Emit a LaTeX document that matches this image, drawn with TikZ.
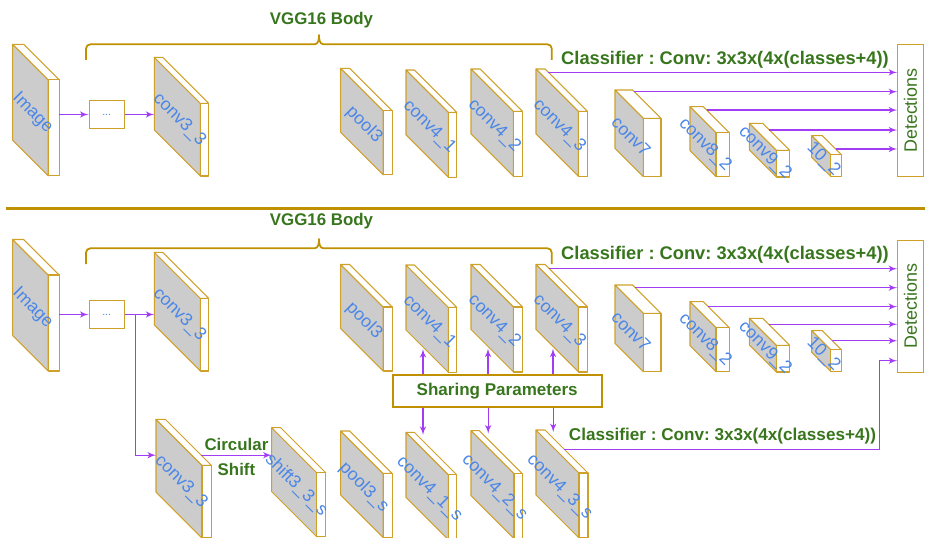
\documentclass[tikz,border=0pt]{standalone}
\usepackage{fontspec}
\setmainfont{Liberation Sans}
\usetikzlibrary{arrows, calc}
\frenchspacing

\definecolor{slabline}{HTML}{CFA12B}
\definecolor{bracegold}{HTML}{BF9000}
\definecolor{facegray}{HTML}{CCCCCC}
\definecolor{labelblue}{HTML}{4A86E8}
\definecolor{textgreen}{HTML}{38761D}
\definecolor{flowpurple}{HTML}{A23CF5}

\begin{document}
\begin{tikzpicture}[x=0.02cm, y=-0.02cm]

\tikzset{slabface/.style = {draw=slabline, fill=facegray, line width=0.6pt, line join=round}}
\tikzset{slabside/.style = {draw=slabline, fill=white, line width=0.6pt, line join=round}}
\tikzset{layer/.style = {text=labelblue, rotate=-45, inner sep=0pt, font=\fontsize{10}{12}\selectfont}}
\tikzset{title/.style = {text=textgreen, inner sep=0pt, font=\bfseries\fontsize{9.6}{11}\selectfont}}
\tikzset{brace/.style = {draw=bracegold, line width=1pt, line join=round}}
\tikzset{flow/.style = {->, > = latex', draw=flowpurple, line width=0.7pt}}
\tikzset{detect/.style = {draw=slabline, line width=0.6pt, minimum width=0.512cm, minimum height=2.648cm, inner sep=0pt, text=textgreen, font=\fontsize{10.2}{12}\selectfont}}
\tikzset{dotbox/.style = {draw=slabline, line width=0.6pt, minimum width=0.706cm, minimum height=0.552cm, inner sep=0pt, text=labelblue, font=\fontsize{6}{7}\selectfont}}
% slab = {depth}{height}{thickness}{label}, placed at the top corner of its grey face
\tikzset{pics/slab/.style n args = {4}{code = {
  \draw[slabface] (0,0) -- (#1,#1) -- (#1,{#1+#2}) -- (0,#2) -- cycle;
  \draw[slabside] (0,0) -- (#3,0) -- ({#1+#3},#1) -- (#1,#1) -- cycle;
  \draw[slabside] (#1,#1) -- ({#1+#3},#1) -- ({#1+#3},{#1+#2}) -- (#1,{#1+#2}) -- cycle;
  \coordinate (-w) at (0,0);
  \coordinate (-e) at (#3,0);
  \coordinate (-f) at ({#1+#3},#1);
  \coordinate (-bot) at ({0.4*#1},{0.4*#1+#2+2});
  \coordinate (-top) at ({0.4*#1},{0.4*#1-#3-6});
  \node[layer] (-lab) at ({#1/2+2},{#1/2+#2/2+3}) {#4};
}}}

\useasboundingbox (0,0) rectangle (925,537);
\clip (0,0) rectangle (925,537);

%top: layers
\pic (image) at (12.7,44.3) {slab={35.5}{96}{11}{Image}};
\pic (conv33) at (154.3,57.3) {slab={46}{72.7}{8.3}{conv3\_3}};
\pic (pool3) at (340.7,68.3) {slab={42.5}{64}{9}{pool3}};
\pic (conv41) at (406,70) {slab={42.5}{65}{8.3}{conv4\_1}};
\pic (conv42) at (471,69) {slab={42.5}{65}{9}{conv4\_2}};
\pic (conv43) at (536,69) {slab={42.5}{65}{9}{conv4\_3}};
\pic (conv7) at (615,90) {slab={28.3}{58.3}{17.7}{conv7}};
\pic (conv82) at (690,106.7) {slab={26}{44}{13.3}{conv8\_2}};
\pic (conv92) at (749.3,123.3) {slab={27}{26.7}{13.3}{conv9\_2}};
\pic (conv102) at (811.7,135.7) {slab={19}{21.7}{10.7}{10\_2}};
\node[dotbox] (dots1) at (106.7,114.5) {...};
\node[detect] (det1) at (910.5,110.5) {\rotatebox{90}{Detections}};

%top: labels
\draw[brace] (86,60) -- (86,48.5) to[out=90,in=180] (90.5,44.3) -- (314.5,44.3) to[out=0,in=270] (319,35)
  to[out=270,in=180] (323.5,44.3) -- (547.5,44.3) to[out=0,in=90] (551.7,48.5) -- (551.7,60);
\node[title] (vgg1) at (321.5,19.7) {VGG16 Body};
\node[title, font=\bfseries\fontsize{10.4}{12}\selectfont] (cls1) at (725,60) {Classifier : Conv: 3x3x(4x(classes+4))};

%top: edges
\draw[flow] (image-f |- dots1.west) -- (dots1.west);
\draw[flow] (dots1.east) -- (conv33-w |- dots1.east);
\draw[flow] ($(conv43-e)!.08!(conv43-f)$) coordinate (o1) -- (o1 -| det1.west);
\draw[flow] ($(conv7-e)!.06!(conv7-f)$) coordinate (o2) -- (o2 -| det1.west);
\draw[flow] ($(conv82-e)!.13!(conv82-f)$) coordinate (o3) -- (o3 -| det1.west);
\draw[flow] ($(conv92-e)!.25!(conv92-f)$) coordinate (o4) -- (o4 -| det1.west);
\draw[flow] ($(conv102-e)!.7!(conv102-f)$) coordinate (o5) -- (o5 -| det1.west);

\draw[draw=bracegold, line width=1.4pt] (6,208.3) -- (925,208.3);

%bottom: layers
\pic (imageb) at (12.7,239.5) {slab={35.5}{96}{11}{Image}};
\pic (conv33b) at (154.3,252.3) {slab={46}{72.7}{8.3}{conv3\_3}};
\pic (pool3b) at (340.7,264.5) {slab={42.5}{64}{9}{pool3}};
\pic (conv41b) at (406,265) {slab={42.5}{65}{8.3}{conv4\_1}};
\pic (conv42b) at (471,264.5) {slab={42.5}{65}{9}{conv4\_2}};
\pic (conv43b) at (536,264.5) {slab={42.5}{65}{9}{conv4\_3}};
\pic (conv7b) at (615,285) {slab={28.3}{58.3}{17.7}{conv7}};
\pic (conv82b) at (690,301.7) {slab={26}{44}{13.3}{conv8\_2}};
\pic (conv92b) at (749.3,318.3) {slab={27}{26.7}{13.3}{conv9\_2}};
\pic (conv102b) at (811.7,330.7) {slab={19}{21.7}{10.7}{10\_2}};
\node[dotbox] (dots2) at (106.7,314.5) {...};
\node[detect] (det2) at (910.5,306.3) {\rotatebox{90}{Detections}};

\pic (conv33s) at (156,419.3) {slab={46}{72.7}{9.3}{conv3\_3}};
\pic (shift33s) at (271.7,427.7) {slab={45}{64}{9}{shift3\_3\_s}};
\pic (pool3s) at (340.7,431) {slab={42.5}{64}{9}{pool3\_s}};
\pic (conv41s) at (406,432.3) {slab={42.5}{65}{8.3}{conv4\_1\_s}};
\pic (conv42s) at (471,430.7) {slab={43}{65}{8.3}{conv4\_2\_s}};
\pic (conv43s) at (536,430) {slab={43}{65}{9}{conv4\_3\_s}};
\node[title, draw=bracegold, line width=1.1pt, minimum width=4.18cm, minimum height=0.634cm, font=\bfseries\fontsize{9.7}{11}\selectfont] (share) at (497.2,390.9) {Sharing Parameters};

%bottom: labels
\draw[brace] (86,264) -- (86,252.5) to[out=90,in=180] (90.5,248.3) -- (314.5,248.3) to[out=0,in=270] (319,239)
  to[out=270,in=180] (323.5,248.3) -- (547.5,248.3) to[out=0,in=90] (551.7,252.5) -- (551.7,264);
\node[title] (vgg2) at (321.5,221) {VGG16 Body};
\node[title, font=\bfseries\fontsize{10.4}{12}\selectfont] (cls2) at (725,255) {Classifier : Conv: 3x3x(4x(classes+4))};
\node[title, font=\bfseries\fontsize{9.75}{11}\selectfont] (cls3) at (722.5,436) {Classifier : Conv: 3x3x(4x(classes+4))};

%bottom: edges
\draw[flow] (imageb-f |- dots2.west) -- (dots2.west);
\draw[flow] (dots2.east) -- (conv33b-w |- dots2.east);
\draw[flow] ($(conv43b-e)!.1!(conv43b-f)$) coordinate (p1) -- (p1 -| det2.west);
\draw[flow] ($(conv7b-e)!.095!(conv7b-f)$) coordinate (p2) -- (p2 -| det2.west);
\draw[flow] ($(conv82b-e)!.19!(conv82b-f)$) coordinate (p3) -- (p3 -| det2.west);
\draw[flow] ($(conv92b-e)!.22!(conv92b-f)$) coordinate (p4) -- (p4 -| det2.west);
\draw[flow] ($(conv102b-e)!.53!(conv102b-f)$) coordinate (p5) -- (p5 -| det2.west);

\coordinate (split) at ($(dots2.east)+(10.7,0)$);
\coordinate (cs) at ($(conv33s-e)!.78!(conv33s-f)$);
\draw[flow] (split) |- (conv33s-w |- cs);
\draw[flow] (cs) -- (shift33s-w |- cs)
  node[title, midway, above=2.5pt] (circ) {Circular}
  node[title, midway, below=4.5pt] (shft) {Shift};

\draw[flow] (share.north -| conv41b-bot) -- (conv41b-bot);
\draw[flow] (share.north -| conv42b-bot) -- (conv42b-bot);
\draw[flow] (share.north -| conv43b-bot) -- (conv43b-bot);
\draw[flow] (share.south -| conv41s-top) -- (conv41s-top);
\draw[flow] (share.south -| conv42s-top) -- (conv42s-top);
\draw[flow] (share.south -| conv43s-top) -- (conv43s-top);

\coordinate (turn) at (879.3,360.7);
\draw[flow] ($(conv43s-e)!.45!(conv43s-f)$) -| (turn) -- (turn -| det2.west);

\end{tikzpicture}
\end{document}
